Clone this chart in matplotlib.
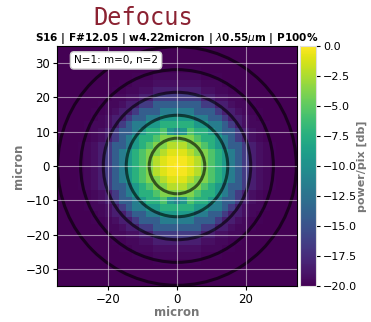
import numpy as np
import matplotlib
matplotlib.use("Agg")
import matplotlib.pyplot as plt
from matplotlib.patches import Circle

# --- data ---
# radial power profile [db], one value per 2 micron pixel ring (ring 0 = centre)
profile_db = [0.0, -0.3, -1.0, -2.2, -3.8, -5.5, -7.3, -9.2, -11.5, -14.0,
              -16.5, -18.3, -19.2, -19.6, -19.8, -20.0, -20.0, -20.0, -20.0,
              -20.0, -20.0, -20.0, -20.0, -20.0, -20.0, -20.0]
# a few darker pixels on the vertical axis (x, y in micron, db)
dip_x = [-2, 0, 2, -2, 0, 2]
dip_y = [10, 10, 10, -10, -10, -10]
dip_db = [-9.5, -11.0, -9.5, -9.5, -11.0, -9.5]
# dark ring radii [micron]
ring_r = [8.1, 14.8, 21.5, 28.1, 34.8]

pix = 2.0
npix = 35
title = "S16 | F#12.05 | w4.22micron | $\\lambda$0.55$\\mu$m | P100%"
label_txt = "N=1: m=0, n=2"

# build image from profile
c = (np.arange(npix) - npix // 2) * pix
X, Y = np.meshgrid(c, c)
ring_idx = np.rint(np.hypot(X, Y) / pix).astype(int)
ring_idx = np.clip(ring_idx, 0, len(profile_db) - 1)
img = np.array(profile_db)[ring_idx]
for x, y, v in zip(dip_x, dip_y, dip_db):
    i = int(round(y / pix)) + npix // 2
    j = int(round(x / pix)) + npix // 2
    img[i, j] = v

half = npix * pix / 2
fig = plt.figure(figsize=(3.71, 3.22), dpi=100)
ax = fig.add_axes([57 / 371, 1 - 286 / 322, 240 / 371, 240 / 322])
cax = fig.add_axes([300 / 371, 1 - 286 / 322, 16 / 371, 240 / 322])

im = ax.imshow(img, cmap="viridis", vmin=-20, vmax=0, origin="lower",
               extent=[-half, half, -half, half], interpolation="nearest")
for r in ring_r:
    ax.add_patch(Circle((0, 0), r, fill=False, ec="black", lw=2.2, alpha=0.6))

ax.set_xlim(-half, half)
ax.set_ylim(-half, half)
ax.set_xticks([-20, 0, 20])
ax.set_yticks([-30, -20, -10, 0, 10, 20, 30])
ax.grid(True, color="white", alpha=0.5, lw=0.8)
ax.tick_params(labelsize=8.5, length=3, pad=2)
ax.set_xlabel("micron", fontsize=8.5, fontweight="bold", color="#777777", labelpad=0)
ax.set_ylabel("micron", fontsize=8.5, fontweight="bold", color="#777777", labelpad=0)
ax.set_title(title, fontsize=7.6, fontweight="bold", pad=3)

ax.text(0.246, 0.94, label_txt, transform=ax.transAxes, ha="center", va="center",
        fontsize=7.5, bbox=dict(boxstyle="round,pad=0.35", fc="white", ec="#cccccc"))

cb = fig.colorbar(im, cax=cax)
cb.set_ticks(np.arange(-20, 0.1, 2.5))
cb.ax.tick_params(labelsize=8, length=3, pad=2)
cb.outline.set_edgecolor("#dddddd")
cb.set_label("power/pix [db]", fontsize=8, fontweight="bold", color="#777777", labelpad=0)

fig.text(143 / 371, 1 - 18 / 322, "Defocus", fontsize=17, family="DejaVu Sans Mono",
         color="#8b2232", ha="center", va="center")

fig.savefig("out.png", dpi=100)
